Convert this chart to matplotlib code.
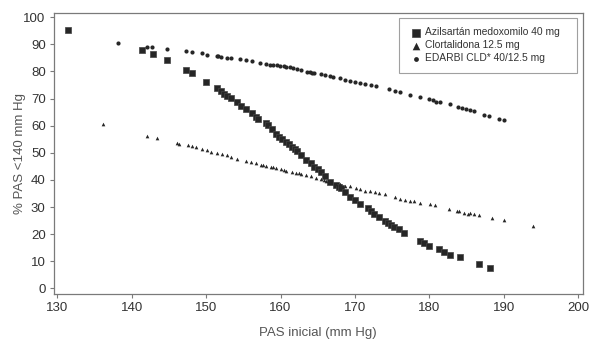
import matplotlib
matplotlib.use("Agg")
import matplotlib.pyplot as plt

plt.rcParams['font.family'] = ['Liberation Sans', 'DejaVu Sans']

# Azilsartán medoxomilo 40 mg (squares)
azil_x = [131.4, 141.4, 142.8, 144.7, 147.3, 148.1, 150.0, 151.4, 152.0, 152.4,
          152.8, 153.4, 154.1, 154.7, 155.4, 156.1, 156.7, 157.0, 158.0, 158.3,
          158.8, 159.4, 159.8, 160.2, 160.7, 161.1, 161.5, 161.9, 162.2, 162.7,
          163.4, 164.1, 164.5, 165.0, 165.4, 166.0, 166.7, 167.4, 167.8, 168.1,
          168.7, 169.4, 170.0, 170.7, 171.7, 172.1, 172.6, 173.3, 174.0, 174.5,
          174.9, 175.3, 175.9, 176.6, 178.7, 179.3, 180.0, 181.3, 182.0, 182.8,
          184.1, 186.7, 188.1]
azil_y = [95.3, 87.9, 86.3, 84.1, 80.4, 79.3, 76.0, 73.9, 72.7, 71.8,
          71.0, 70.2, 68.7, 67.3, 66.2, 64.8, 63.2, 62.4, 61.0, 60.1,
          58.7, 57.0, 55.9, 55.2, 53.9, 53.1, 52.1, 51.3, 50.7, 49.3,
          47.3, 46.1, 44.9, 43.9, 42.8, 41.6, 39.4, 38.3, 37.5, 36.9,
          35.4, 33.9, 32.5, 31.0, 29.5, 28.4, 27.4, 26.2, 24.8, 24.2,
          23.5, 22.5, 21.8, 20.3, 17.6, 16.7, 15.5, 14.5, 13.4, 12.5,
          11.5, 8.9, 7.7]

# Clortalidona 12.5 mg (triangles)
clor_x = [136.2, 142.1, 143.4, 146.1, 146.4, 147.5, 148.1, 148.7, 149.4, 150.1,
          150.7, 151.4, 152.1, 152.8, 153.4, 154.1, 155.4, 156.0, 156.7, 157.4,
          157.7, 158.1, 158.7, 159.0, 159.4, 160.1, 160.5, 160.8, 161.5, 162.1,
          162.5, 162.8, 163.4, 164.1, 164.8, 165.4, 165.8, 166.1, 167.4, 168.0,
          168.7, 169.4, 170.1, 170.7, 171.4, 172.0, 172.7, 173.3, 174.1, 175.4,
          176.1, 176.7, 177.4, 178.0, 178.7, 180.1, 180.7, 182.7, 183.7, 184.0,
          184.7, 185.2, 185.4, 186.0, 186.7, 188.4, 190.0, 194.0]
clor_y = [60.5, 56.3, 55.3, 53.5, 53.2, 52.8, 52.4, 52.0, 51.5, 51.0,
          50.4, 49.9, 49.5, 49.1, 48.5, 47.9, 47.0, 46.5, 46.1, 45.7,
          45.4, 45.2, 44.8, 44.6, 44.4, 43.9, 43.7, 43.4, 42.9, 42.7,
          42.4, 42.1, 41.7, 41.3, 40.8, 40.2, 40.0, 39.6, 38.6, 38.4,
          37.9, 37.6, 36.9, 36.5, 36.0, 35.8, 35.4, 35.2, 34.8, 33.7,
          33.1, 32.7, 32.3, 32.1, 31.5, 31.0, 30.6, 29.2, 28.6, 28.4,
          27.9, 27.4, 28.0, 27.3, 26.9, 25.9, 25.1, 23.0]

# EDARBI CLD* 40/12.5 mg (circles)
edarbi_x = [138.2, 142.1, 142.7, 144.7, 147.3, 148.1, 149.4, 150.1, 151.4, 151.6,
            152.0, 152.8, 153.4, 154.6, 155.4, 156.1, 157.2, 158.0, 158.6, 159.0,
            159.5, 159.9, 160.4, 160.8, 161.3, 161.7, 162.2, 162.8, 163.5, 164.0,
            164.2, 164.5, 165.4, 166.0, 166.7, 167.1, 168.0, 168.7, 169.3, 170.0,
            170.7, 171.4, 172.1, 172.8, 174.6, 175.4, 176.1, 177.4, 178.7, 180.0,
            180.5, 180.9, 181.4, 182.8, 183.9, 184.4, 184.9, 185.4, 186.0, 187.4,
            188.0, 189.3, 190.1]
edarbi_y = [90.4, 89.2, 88.9, 88.2, 87.6, 87.1, 86.7, 86.2, 85.8, 85.6,
            85.4, 85.1, 85.0, 84.6, 84.1, 83.9, 83.3, 82.9, 82.5, 82.4,
            82.3, 82.1, 81.9, 81.8, 81.7, 81.4, 81.0, 80.5, 79.9, 79.7,
            79.6, 79.3, 79.0, 78.7, 78.2, 78.1, 77.5, 77.0, 76.6, 76.2,
            75.8, 75.3, 75.0, 74.5, 73.5, 72.8, 72.3, 71.2, 70.6, 69.7,
            69.4, 68.9, 68.6, 67.9, 67.0, 66.5, 66.2, 65.9, 65.4, 64.1,
            63.7, 62.6, 62.1]

labels = ["Azilsartán medoxomilo 40 mg", "Clortalidona 12.5 mg", "EDARBI CLD* 40/12.5 mg"]
x_ticks = [130, 140, 150, 160, 170, 180, 190, 200]
y_ticks = [0, 10, 20, 30, 40, 50, 60, 70, 80, 90, 100]

fig = plt.figure(figsize=(6.0, 3.51), dpi=100)
ax = fig.add_axes([0.09, 0.162, 0.881, 0.802])

dark = '#262626'
ax.scatter(azil_x, azil_y, marker='s', s=18, color=dark, edgecolors='#444444',
           linewidths=0.5, label=labels[0], zorder=3)
ax.scatter(clor_x, clor_y, marker='^', s=7, color=dark, linewidths=0, label=labels[1], zorder=3)
ax.scatter(edarbi_x, edarbi_y, marker='o', s=9, color=dark, linewidths=0, label=labels[2], zorder=3)

ax.set_xlim(129.55, 200.6)
ax.set_ylim(-2.1, 101.7)
ax.set_xticks(x_ticks)
ax.set_yticks(y_ticks)

spine_c = '#7a7a7a'
for s in ax.spines.values():
    s.set_color(spine_c)
    s.set_linewidth(0.9)
ax.tick_params(axis='both', direction='out', length=3, width=0.8, color=spine_c,
               labelsize=9.5, labelcolor='#333333', pad=3)

ax.set_xlabel("PAS inicial (mm Hg)", fontsize=9.5, color='#555555', labelpad=9)
ax.set_ylabel("% PAS <140 mm Hg", fontsize=9.5, color='#555555', labelpad=-2)

# legend box stretched to the width seen in the reference
leg = ax.legend(loc='upper left', mode='expand', fontsize=7.4, frameon=True,
                fancybox=False, edgecolor='#888888', borderpad=0.9,
                handletextpad=0.0, handlelength=1.6, labelspacing=0.3,
                borderaxespad=0, bbox_to_anchor=(0.6525, 0.5, 0.337, 0.481))
leg.get_frame().set_linewidth(0.8)
for h, sz in zip(leg.legend_handles, [28, 30, 12]):
    h.set_sizes([sz])
for t in leg.get_texts():
    t.set_color('#333333')

fig.savefig("out.png", dpi=100)
